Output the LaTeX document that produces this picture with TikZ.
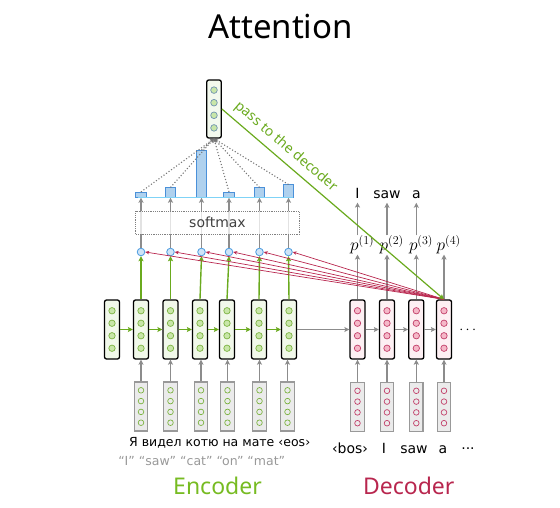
\documentclass[tikz,border=0pt]{standalone}
\usepackage{fontspec}
\setmainfont{DejaVu Sans}
\newfontfamily\notofont{Noto Sans}
\usetikzlibrary{arrows.meta}
\definecolor{encgreen}{HTML}{6AAA1E}
\definecolor{enctext}{HTML}{77BB22}
\definecolor{encfill}{HTML}{F1F8EA}
\definecolor{enccirc}{HTML}{C8E6A8}
\definecolor{enccircb}{HTML}{7CB342}
\definecolor{decred}{HTML}{B8264E}
\definecolor{decfill}{HTML}{FDF0F3}
\definecolor{deccirc}{HTML}{F5B8C8}
\definecolor{deccircb}{HTML}{C2406A}
\definecolor{attfill}{HTML}{CFE4F7}
\definecolor{attb}{HTML}{4A9BE0}
\definecolor{barfill}{HTML}{AFD1EE}
\definecolor{barb}{HTML}{4A90D9}
\definecolor{barline}{HTML}{7FD3F7}
\definecolor{arrgray}{HTML}{8C8C8C}
\definecolor{dotgray}{HTML}{777777}
\definecolor{inpfill}{HTML}{EBEBEB}
\definecolor{inpb}{HTML}{999999}
\definecolor{ctxfill}{HTML}{F3F9EE}
\definecolor{ctxcircb}{HTML}{6F93B0}
\begin{document}
\begin{tikzpicture}[x=1pt,y=-1pt,
  hstate/.style={draw=black, line width=1.3pt, rounded corners=2pt, minimum width=15pt, minimum height=59pt, inner sep=0pt},
  encstate/.style={hstate, fill=encfill},
  decstate/.style={hstate, fill=decfill},
  instate/.style={draw=inpb, line width=1.3pt, fill=inpfill, minimum width=13.5pt, minimum height=49pt, inner sep=0pt},
  enccircle/.style={draw=enccircb, fill=enccirc, line width=0.7pt},
  deccircle/.style={draw=deccircb, fill=deccirc, line width=0.7pt},
  encincircle/.style={draw=enccircb, fill=inpfill, line width=0.7pt},
  decincircle/.style={draw=deccircb, fill=inpfill, line width=0.7pt},
  grayarrow/.style={draw=arrgray, line width=1.4pt, -{Stealth[length=5pt,width=5pt,inset=1pt]}},
  greenarrow/.style={draw=encgreen, line width=1.4pt, -{Stealth[length=5pt,width=5pt,inset=1pt]}},
  redarrow/.style={draw=decred, line width=0.7pt, -{Stealth[length=4pt,width=3.5pt]}},
  dotarrow/.style={draw=dotgray, line width=1.1pt, dotted, -{Stealth[length=4pt,width=4pt]}},
  attcircle/.style={circle, draw=attb, fill=attfill, line width=0.8pt, minimum size=7.6pt, inner sep=0pt},
  bar/.style={draw=barb, fill=barfill, line width=0.8pt, minimum width=10.5pt, inner sep=0pt, anchor=south},
  wordfont/.style={font=\fontsize{12.5}{14}\selectfont},
  bigword/.style={font=\fontsize{14}{16}\selectfont, anchor=base},
]
\useasboundingbox (0,0) rectangle (560,508);

% title
\node[anchor=base, font=\notofont\fontsize{33}{38}\selectfont] (title) at (280.5,38.3) {Attention};

% encoder hidden states
\foreach \n/\x in {1/112,2/141,3/170.5,4/200,5/227,6/259,7/289}{
  \node[encstate] (e\n) at (\x,329.5) {};
  \foreach \dy in {-18.75,-6.25,6.25,18.75}
    \draw[enccircle] (\x,{329.5+\dy}) circle[radius=3.2pt];
}
% encoder inputs
\foreach \n/\x in {2/141,3/170.5,4/201,5/227.5,6/259.5,7/287.5}{
  \node[instate] (ie\n) at (\x,406.5) {};
  \foreach \dy in {-16.2,-5.4,5.4,16.2}
    \draw[encincircle] (\x,{406.5+\dy}) circle[radius=2.8pt];
  \draw[grayarrow] (ie\n.north) -- (ie\n.north |- e\n.south);
}
% encoder recurrence
\foreach \a/\b in {1/2,2/3,3/4,4/5,5/6,6/7}
  \draw[greenarrow] (e\a.east) -- (e\b.west);

% decoder hidden states
\foreach \n/\x in {1/357.5,2/387,3/416.3,4/444}{
  \node[decstate] (d\n) at (\x,329.5) {};
  \foreach \dy in {-18.75,-6.25,6.25,18.75}
    \draw[deccircle] (\x,{329.5+\dy}) circle[radius=3.2pt];
  \node[instate] (id\n) at (\x,407) {};
  \foreach \dy in {-16.2,-5.4,5.4,16.2}
    \draw[decincircle] (\x,{407+\dy}) circle[radius=2.8pt];
  \draw[grayarrow] (id\n.north) -- (d\n.south);
}
\draw[grayarrow, line width=1.2pt] (e7.east) -- (d1.west);
\foreach \a/\b in {1/2,2/3,3/4}
  \draw[grayarrow, line width=1.2pt] (d\a.east) -- (d\b.west);
\node[font=\fontsize{15}{16}\selectfont] (dots) at (467.7,330) {$\cdots$};

% decoder outputs
\foreach \n/\x in {1/357.5,2/387,3/416.3,4/444}{
  \node[anchor=west, inner sep=0pt, font=\fontsize{17}{19}\selectfont] (p\n) at ({\x-7.5},245) {$p^{(\n)}$};
  \draw[grayarrow] (d\n.north) -- (d\n.north |- p\n.south);
}
\node[bigword] (w1) at (357.5,199) {I};
\node[bigword] (w2) at (387,199) {saw};
\node[bigword] (w3) at (416.3,199) {a};
\foreach \n in {1,2,3}
  \draw[grayarrow] (d\n.north |- p\n.north) -- (d\n.north |- w\n.south);

% attention scores
\foreach \n/\x/\t in {2/141/192.7,3/170.5/188.3,4/201.5/151,5/229/192.7,6/259.5/188.3,7/288.5/185.3}{
  \node[attcircle] (a\n) at (\x,252) {};
  \draw[greenarrow] (e\n.north) -- (a\n.south);
  \node[bar, minimum height={197.7-\t}] (b\n) at (\x,197.7) {};
  \draw[grayarrow, line width=1.2pt] (a\n.north) -- (b\n.south);
}
\draw[draw=barline, line width=1.3pt] (137.7,197.7) -- (293.3,197.7);

% softmax box
\node[draw=gray, dash pattern=on 1.2pt off 1pt, line width=0.7pt, fill=white, fill opacity=0.75, text opacity=1,
  minimum width=163.6pt, minimum height=23pt, inner sep=0pt, text=black!75,
  font=\fontsize{14}{16}\selectfont] (softmax) at (217.5,222.5) {softmax};

% context vector
\node[hstate, fill=ctxfill, minimum width=14.5pt, minimum height=58pt] (ctx) at (214,109) {};
\foreach \dy in {-18.9,-6.3,6.3,18.9}
  \draw[draw=ctxcircb, fill=enccirc, line width=0.7pt] (214,{109+\dy}) circle[radius=3.3pt];
\foreach \n in {2,...,7}
  \draw[dotarrow] (b\n.north) -- (ctx.south);

% decoder attention queries
\foreach \n in {2,...,7}
  \draw[redarrow] (d4.north) -- (a\n.east);

% pass to the decoder
\draw[greenarrow, line width=1.2pt] (ctx.east) -- node[pos=0.25, sloped, above=2pt, text=encgreen,
  font=\notofont\fontsize{14}{16}\selectfont] {pass to the decoder} (d4.north);

% texts
\node[wordfont, anchor=base] (encwords) at (219.7,446.7) {Я видел котю на мате ‹eos›};
\node[wordfont, anchor=base, text=inpb] (gloss) at (201.7,465) {“I” “saw” “cat” “on” “mat”};
\node[bigword] (t1) at (350,453.3) {‹bos›};
\node[bigword] (t2) at (384,453.3) {I};
\node[bigword] (t3) at (414,453.3) {saw};
\node[bigword] (t4) at (443,453.3) {a};
\node[bigword] (t5) at (468,453.3) {···};
\node[anchor=base, text=enctext, font=\notofont\fontsize{23}{26}\selectfont] (enclabel) at (217.5,494) {Encoder};
\node[anchor=base, text=decred, font=\notofont\fontsize{23}{26}\selectfont] (declabel) at (408.8,494) {Decoder};
\end{tikzpicture}
\end{document}
